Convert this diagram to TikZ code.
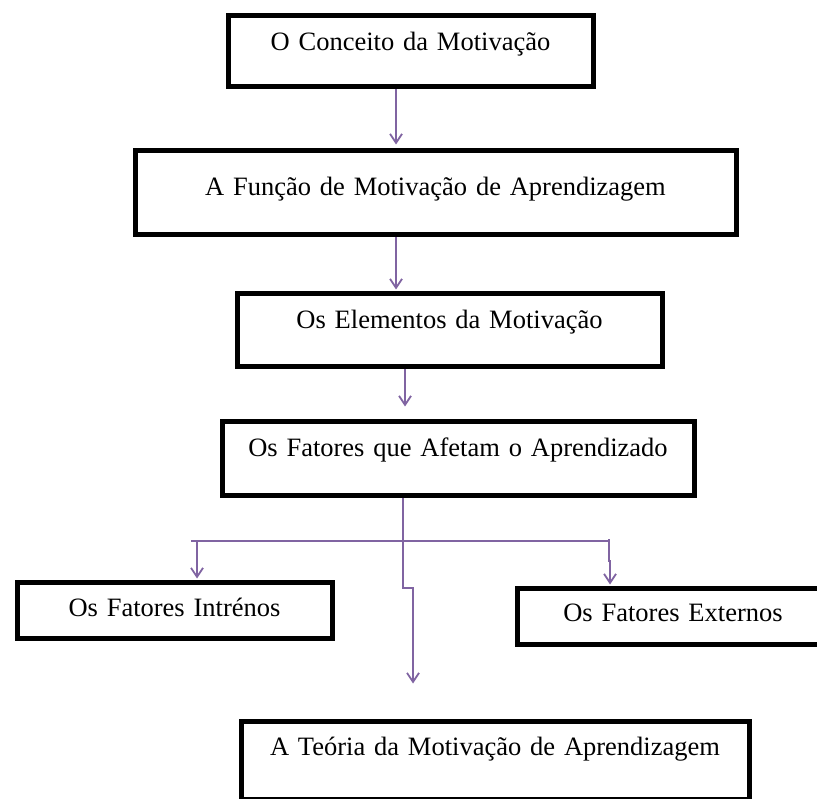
\documentclass[tikz,border=0pt]{standalone}
\usepackage{fontspec}
\setmainfont{Liberation Serif}
\usetikzlibrary{arrows.meta}
\definecolor{conncol}{RGB}{128,100,162}
\begin{document}
\begin{tikzpicture}[x=1pt,y=-1pt,
  box/.style={draw=black, line width=5pt, rectangle, inner sep=0pt, anchor=north west,
    align=center, font=\fontsize{26.5}{30}\selectfont},
  conn/.style={draw=conncol, line width=1.8pt},
  arr/.style={conn, -{Straight Barb[length=9pt,width=12pt,line width=1.8pt]}}]
\useasboundingbox (0,0) rectangle (817,799);
\fill[white] (0,0) rectangle (817,799);
% boxes (path at border centre)
\node[box, text width=365pt, text height=34.5pt, text depth=36.5pt] (b1) at (225.5,13.5) {O Conceito da Motivação};
\node[box, text width=601pt, text height=44.5pt, text depth=39.5pt] (b2) at (132.5,148.5) {A Função de Motivação de Aprendizagem};
\node[box, text width=425pt, text height=34.5pt, text depth=38.5pt] (b3) at (234.5,291.5) {Os Elementos da Motivação};
\node[box, text width=472pt, text height=34.5pt, text depth=39.5pt] (b4) at (219.5,419.5) {Os Fatores que Afetam o Aprendizado};
\node[box, text width=315pt, text height=34.5pt, text depth=21.5pt] (b5) at (14.5,579.5) {Os Fatores Intrénos};
\node[box, text width=312pt, text height=33.5pt, text depth=22.5pt] (b6) at (514.5,585.5) {Os Fatores Externos};
\node[box, text width=508pt, text height=34.5pt, text depth=43.5pt] (b7) at (238.5,718.5) {A Teória da Motivação de Aprendizagem};
% connector guide coordinates
\coordinate (c1) at (396,0);
\coordinate (c3) at (405,0);
\coordinate (m1) at (403,588);
\coordinate (m2) at (413,588);
\coordinate (hl) at (191,541);
\coordinate (hr) at (609,541);
\coordinate (lb) at (197,541);
\coordinate (rj1) at (609,561);
\coordinate (rj2) at (610,561);
% connectors
\draw[arr, shorten >=4pt] (b1.south -| c1) -- (b2.north -| c1);
\draw[arr, shorten >=2pt] (b2.south -| c1) -- (b3.north -| c1);
\draw[arr, shorten >=13pt] (b3.south -| c3) -- (b4.north -| c3);
\draw[conn] (hl) -- (hr);
\draw[conn] (hr) -- ++(0,-2);
\draw[arr, shorten >=35pt] (b4.south -| m1) -- (m1) -- (m2) -- (b7.north -| m2);
\draw[arr, shorten >=1pt] (lb) -- (lb |- b5.north);
\draw[arr, shorten >=1pt] (hr) -- (rj1) -- (rj2) -- (rj2 |- b6.north);
\end{tikzpicture}
\end{document}
